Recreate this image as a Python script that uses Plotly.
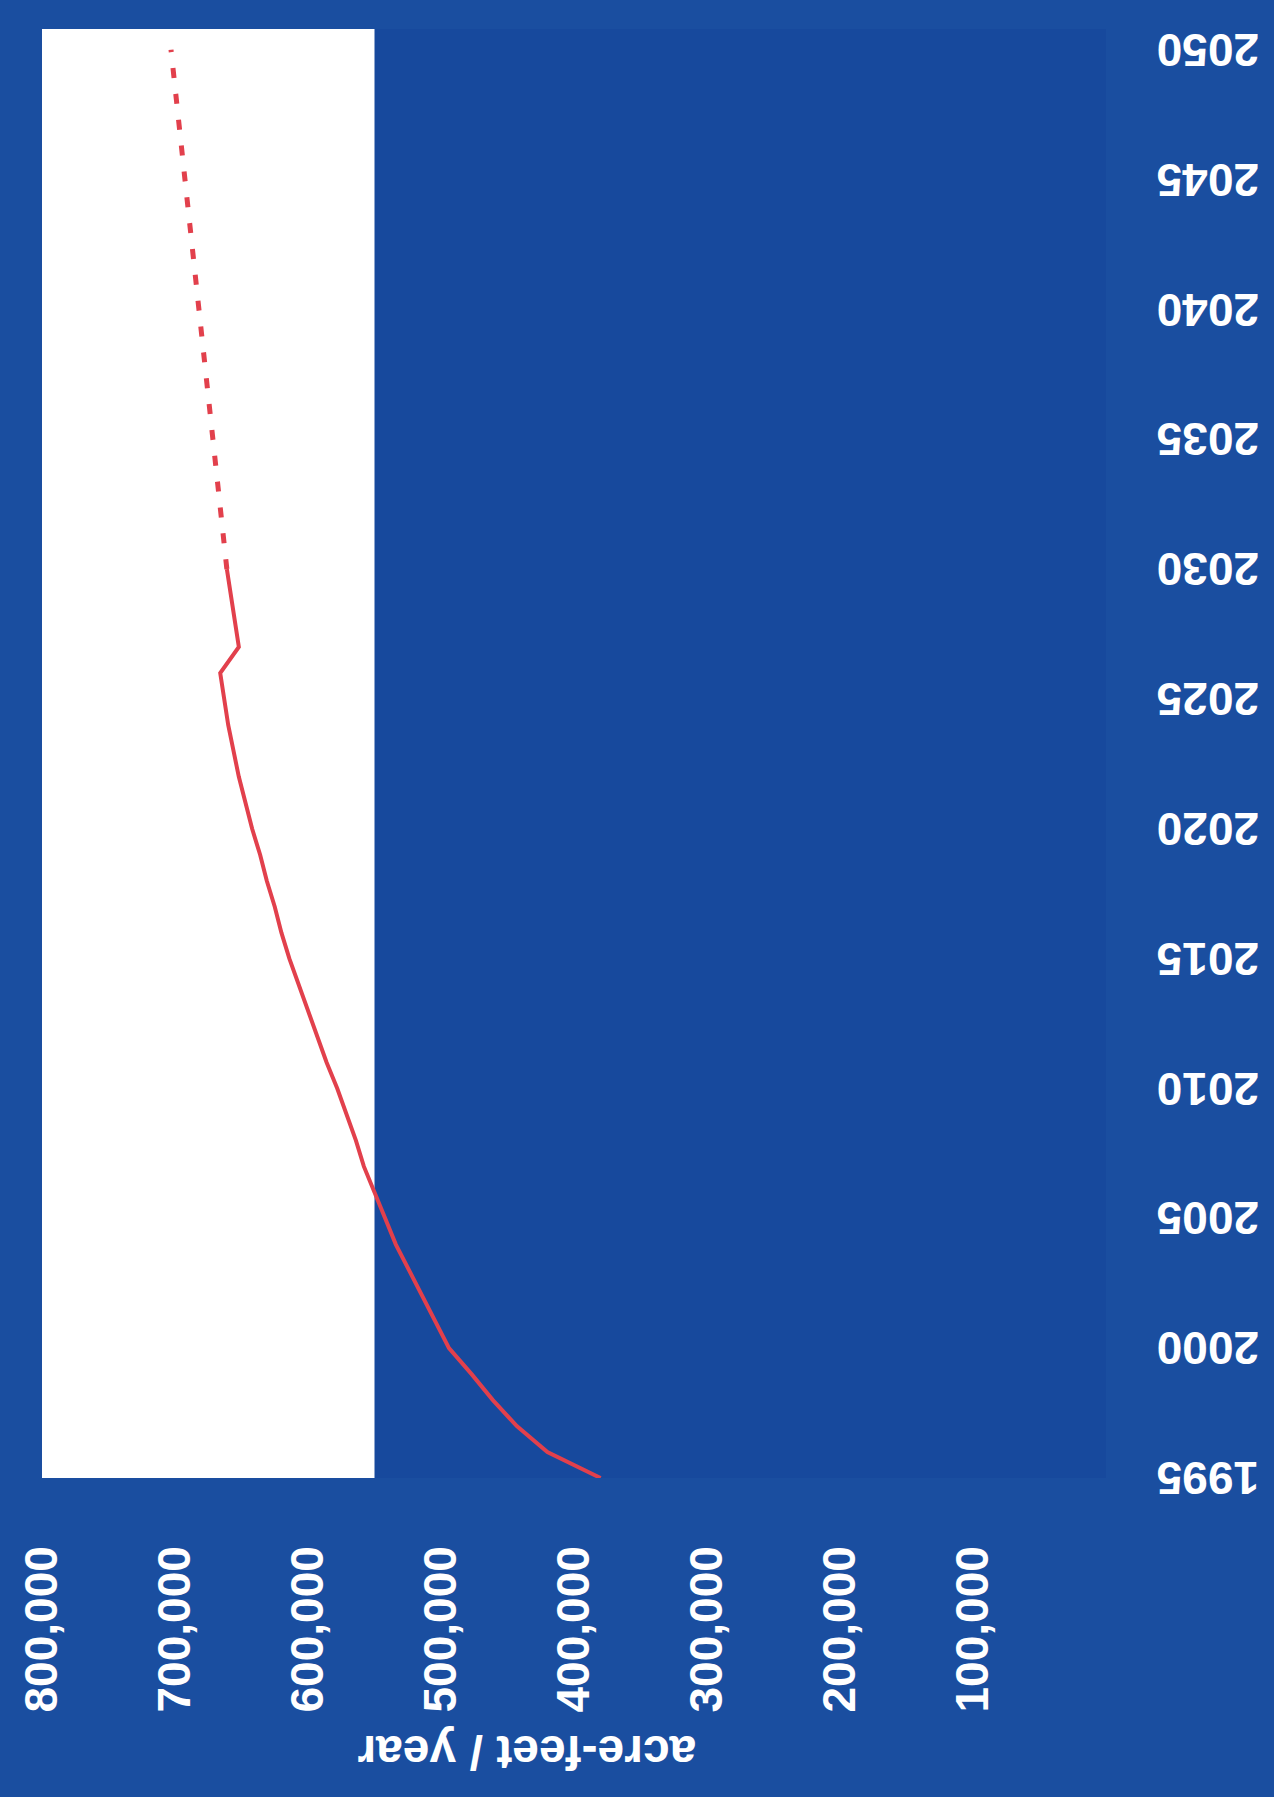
import plotly.graph_objects as go

# ---- data ----
years_actual = list(range(1995, 2031))
demand_actual = [380000, 420000, 443000, 461000, 477000, 494000, 504000, 514000,
                 524000, 534000, 542000, 550000, 558000, 564000, 571000, 578000,
                 586000, 593000, 600000, 607000, 614000, 620000, 625000, 631000,
                 636000, 642000, 647000, 652000, 656000, 660000, 663000, 666000,
                 652000, 655000, 658000, 661000]
years_projected = [2030, 2050]
demand_projected = [661000, 703000]

supply_low = 550000
supply_high = 800000

year_ticks = list(range(1995, 2051, 5))
value_ticks = [100000, 200000, 300000, 400000, 500000, 600000, 700000, 800000]
value_labels = ["100,000", "200,000", "300,000", "400,000", "500,000",
                "600,000", "700,000", "800,000"]
axis_title = "acre-feet / year"

RED = "#e2404c"
PAPER = "#1a4ea0"
PLOT = "#17499d"
FONT = "Liberation Sans"

fig = go.Figure()

fig.add_shape(type="rect", xref="x", yref="y domain",
              x0=supply_low, x1=supply_high, y0=0, y1=1,
              fillcolor="white", line=dict(width=0), layer="below")

fig.add_trace(go.Scatter(x=demand_actual, y=years_actual, mode="lines",
                         line=dict(color=RED, width=4), showlegend=False,
                         hoverinfo="skip"))
fig.add_trace(go.Scatter(x=demand_projected, y=years_projected, mode="lines",
                         line=dict(color=RED, width=5, dash="10px,16px"),
                         showlegend=False, hoverinfo="skip"))

fig.update_layout(
    width=1274, height=1797,
    margin=dict(l=42, r=168, t=29, b=319),
    paper_bgcolor=PAPER, plot_bgcolor=PLOT,
    xaxis=dict(range=[800000, 0], tickvals=value_ticks, ticktext=value_labels,
               tickangle=-90, showgrid=False, zeroline=False, showline=False,
               ticks="", ticklabelstandoff=58, automargin=False,
               tickfont=dict(family=FONT, size=46, color="white", weight="bold")),
    yaxis=dict(range=[1995, 2050.8], side="right", tickvals=year_ticks,
               tickangle=180, showgrid=False, zeroline=False, showline=False,
               ticks="", ticklabelstandoff=152, ticklabelshift=14, automargin=False,
               tickfont=dict(family=FONT, size=46, color="white", weight="bold")),
    annotations=[dict(text=axis_title, xref="paper", yref="paper",
                      x=0.456, y=-0.209, showarrow=False, textangle=180,
                      font=dict(family=FONT, size=48, color="white", weight="bold"))],
)

fig.write_html("out.html")
